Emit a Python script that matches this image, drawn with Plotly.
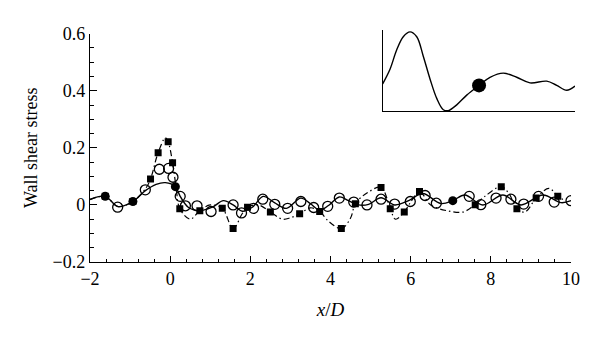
import plotly.graph_objects as go

# Solid curve
solid_x = [-2.0, -1.62, -1.3, -0.93, -0.62, -0.35, -0.12, 0.13, 0.25, 0.45, 0.75, 1.05, 1.33, 1.57, 1.8, 2.05, 2.32, 2.6, 2.9, 3.26, 3.5, 3.73, 3.95, 4.22, 4.45, 4.7, 4.95, 5.26, 5.6, 5.95, 6.3, 6.75, 7.05, 7.35, 7.8, 8.3, 8.75, 9.3, 9.75, 10.0]
solid_y = [0.019, 0.03, -0.006, 0.012, 0.05, 0.072, 0.078, 0.064, 0.03, -0.008, -0.02, -0.008, 0.015, 0.0, -0.022, -0.008, 0.03, 0.008, -0.012, 0.024, 0.004, -0.018, -0.002, 0.028, 0.015, 0.0, 0.002, 0.025, 0.0, 0.015, 0.04, 0.005, 0.015, 0.035, 0.0, 0.035, 0.0, 0.035, 0.008, 0.015]

# Open circles
open_x = [-1.31, -0.62, -0.27, -0.04, 0.07, 0.25, 0.38, 0.67, 1.02, 1.57, 1.78, 2.08, 2.31, 2.61, 2.93, 3.26, 3.58, 3.93, 4.22, 4.58, 4.91, 5.26, 5.60, 5.99, 6.36, 6.64, 7.46, 7.75, 8.13, 8.50, 8.82, 9.19, 9.58, 10.0]
open_y = [-0.008, 0.053, 0.125, 0.128, 0.097, 0.03, -0.003, -0.003, -0.023, 0.0, -0.028, -0.012, 0.02, 0.002, -0.012, 0.012, -0.009, -0.005, 0.024, 0.01, 0.0, 0.02, 0.003, 0.012, 0.033, 0.006, 0.03, 0.001, 0.024, 0.02, 0.003, 0.03, 0.01, 0.015]

# Dash-dot curve
dd_x = [-2.0, -1.62, -1.3, -0.93, -0.6, -0.49, -0.30, -0.12, -0.05, 0.06, 0.15, 0.24, 0.5, 0.74, 1.0, 1.30, 1.57, 1.8, 1.93, 2.2, 2.50, 2.8, 3.0, 3.23, 3.5, 3.73, 3.95, 4.27, 4.5, 4.62, 4.9, 5.26, 5.49, 5.62, 5.84, 6.0, 6.22, 6.5, 6.9, 7.3, 7.61, 7.85, 8.26, 8.45, 8.65, 8.85, 9.13, 9.45, 9.67, 9.85]
dd_y = [0.019, 0.03, -0.006, 0.012, 0.06, 0.091, 0.183, 0.235, 0.221, 0.148, 0.06, -0.013, -0.05, -0.02, 0.0, -0.012, -0.083, -0.03, -0.008, 0.0, -0.025, -0.05, -0.045, -0.031, -0.01, -0.023, -0.057, -0.083, -0.046, 0.004, 0.041, 0.061, -0.013, -0.05, -0.025, 0.01, 0.047, 0.0, -0.02, -0.025, 0.001, 0.03, 0.064, 0.04, -0.013, -0.025, 0.024, 0.058, 0.03, 0.015]

# Filled squares
sq_x = [-1.62, -0.93, -0.49, -0.30, -0.05, 0.06, 0.24, 0.74, 1.30, 1.57, 1.93, 2.50, 3.23, 3.73, 4.27, 4.62, 5.26, 5.49, 5.84, 6.22, 7.61, 8.26, 8.65, 9.13, 9.67]
sq_y = [0.03, 0.012, 0.091, 0.183, 0.221, 0.148, -0.013, -0.02, -0.012, -0.083, -0.008, -0.025, -0.031, -0.023, -0.083, 0.004, 0.061, -0.013, -0.025, 0.047, 0.001, 0.064, -0.013, 0.024, 0.03]

# Filled circles
fc_x = [-1.62, -0.93, 0.13, 7.05]
fc_y = [0.03, 0.012, 0.064, 0.015]

# Inset curve
inset_x = [0, 0.038, 0.073, 0.107, 0.142, 0.177, 0.211, 0.246, 0.281, 0.315, 0.341, 0.385, 0.437, 0.501, 0.558, 0.627, 0.697, 0.766, 0.853, 0.905, 0.957, 1.0]
inset_y = [0.345, 0.528, 0.772, 0.935, 0.996, 0.935, 0.691, 0.406, 0.162, 0.02, 0.008, 0.081, 0.203, 0.325, 0.427, 0.479, 0.427, 0.357, 0.378, 0.325, 0.264, 0.317]
inset_dot_x = [0.501]
inset_dot_y = [0.325]

FONT = "Liberation Serif"

fig = go.Figure()
fig.add_trace(go.Scatter(x=dd_x, y=dd_y, mode="lines", line=dict(color="black", width=1.2, dash="6px,3px,1.5px,3px", shape="spline"), showlegend=False))
fig.add_trace(go.Scatter(x=solid_x, y=solid_y, mode="lines", line=dict(color="black", width=1.4, shape="spline"), showlegend=False))
fig.add_trace(go.Scatter(x=sq_x, y=sq_y, mode="markers", marker=dict(symbol="square", size=7, color="black"), showlegend=False))
fig.add_trace(go.Scatter(x=open_x, y=open_y, mode="markers", marker=dict(symbol="circle-open", size=10, color="black", line=dict(width=1.3)), showlegend=False))
fig.add_trace(go.Scatter(x=fc_x, y=fc_y, mode="markers", marker=dict(symbol="circle", size=9, color="black"), showlegend=False))

fig.add_trace(go.Scatter(x=inset_x, y=inset_y, xaxis="x2", yaxis="y2", mode="lines", line=dict(color="black", width=1.4, shape="spline"), showlegend=False))
fig.add_trace(go.Scatter(x=inset_dot_x, y=inset_dot_y, xaxis="x2", yaxis="y2", mode="markers", marker=dict(symbol="circle", size=14, color="black"), showlegend=False))

fig.update_layout(
    width=600, height=341,
    margin=dict(l=82, r=33, t=20, b=87),
    plot_bgcolor="white", paper_bgcolor="white",
    font=dict(family=FONT, size=18, color="black"),
    xaxis=dict(domain=[0, 0.9918], range=[-2, 10], dtick=2, tick0=0,
               showline=True, linecolor="black", linewidth=1.3, mirror=False,
               showgrid=False, zeroline=False,
               ticks="inside", ticklen=6, tickwidth=1.2, tickcolor="black",
               minor=dict(dtick=0.4, ticks="inside", ticklen=3, tickwidth=1, tickcolor="black"),
               title=dict(text="<i>x</i>/<i>D</i>", font=dict(family=FONT, size=19), standoff=14),
               tickfont=dict(family=FONT, size=18)),
    yaxis=dict(domain=[0, 0.984], range=[-0.2, 0.6], dtick=0.2, tick0=0,
               showline=True, linecolor="black", linewidth=1.3,
               showgrid=False, zeroline=False,
               ticks="inside", ticklen=7, tickwidth=1.2, tickcolor="black",
               minor=dict(dtick=0.05, ticks="inside", ticklen=4, tickwidth=1, tickcolor="black"),
               title=dict(text="Wall shear stress", font=dict(family=FONT, size=18), standoff=10),
               tickfont=dict(family=FONT, size=18)),
    xaxis2=dict(domain=[0.6035, 1.0], range=[0, 1], anchor="y2",
                showline=True, linecolor="black", linewidth=1.3,
                showgrid=False, zeroline=False, showticklabels=False, ticks=""),
    yaxis2=dict(domain=[0.6496, 1.0], range=[0, 1.02], anchor="x2",
                showline=True, linecolor="black", linewidth=1.3,
                showgrid=False, zeroline=False, showticklabels=False, ticks=""),
)

fig.write_html("out.html")
